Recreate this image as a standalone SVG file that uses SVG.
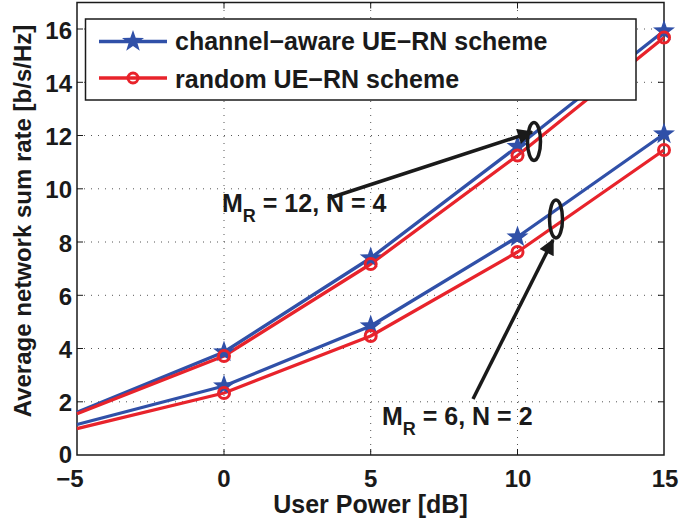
<svg xmlns="http://www.w3.org/2000/svg" width="679" height="523" viewBox="0 0 679 523">
  <style>
    text { font-family: "Liberation Sans", Arial, sans-serif; font-weight: bold; fill: #1a1a1a; }
    .tick { font-size: 24px; }
    .lbl { font-size: 25px; }
    .ylbl { font-size: 24px; }
    .ann { font-size: 25px; }
    .grid { stroke: #555; stroke-width: 1; stroke-dasharray: 1 6; fill: none; }
    .axis { stroke: #1a1a1a; stroke-width: 1.5; fill: none; }
    .tk { stroke: #1a1a1a; stroke-width: 1; }
    .blue { stroke: #3050a8; stroke-width: 3.3; fill: none; stroke-linejoin: round; }
    .red { stroke: #e8232b; stroke-width: 3.3; fill: none; stroke-linejoin: round; }
    .star { fill: #3050a8; }
    .circ { fill: none; stroke: #e8232b; stroke-width: 3; }
    .ptr { stroke: #1a1a1a; stroke-width: 3.5; fill: none; }
  </style>
  <defs>
    <path id="star" d="M0,-11.5 L2.7,-3.7 L11,-3.5 L4.4,1.5 L6.8,9.3 L0,4.6 L-6.8,9.3 L-4.4,1.5 L-11,-3.5 L-2.7,-3.7 Z"/>
    <marker id="ah" viewBox="0 0 10 10" refX="9" refY="5" markerWidth="5" markerHeight="4.5" orient="auto" markerUnits="strokeWidth">
      <path d="M0,0 L10,5 L0,10 Z" fill="#1a1a1a"/>
    </marker>
  </defs>
  <rect x="0" y="0" width="679" height="523" fill="#fff"/>

  <!-- grid -->
  <g id="grid">
    <path class="grid" d="M224,3 V455 M370.7,3 V455 M517.5,3 V455"/>
    <path class="grid" d="M77,401.8 H664 M77,348.5 H664 M77,295.3 H664 M77,242 H664 M77,188.8 H664 M77,135.5 H664 M77,82.3 H664 M77,29 H664"/>
  </g>

  <!-- axes box and ticks -->
  <g id="axes">
    <rect class="axis" x="77" y="2.5" width="587" height="452.5"/>
    <path class="tk" d="M77,401.8 h6 M77,348.5 h6 M77,295.3 h6 M77,242 h6 M77,188.8 h6 M77,135.5 h6 M77,82.3 h6 M77,29 h6
      M664,401.8 h-6 M664,348.5 h-6 M664,295.3 h-6 M664,242 h-6 M664,188.8 h-6 M664,135.5 h-6 M664,82.3 h-6 M664,29 h-6
      M224,455 v-6 M370.7,455 v-6 M517.5,455 v-6 M224,2.5 v6 M370.7,2.5 v6 M517.5,2.5 v6"/>
  </g>

  <!-- data series -->
  <g id="series">
    <polyline class="blue" points="77,412.4 224,352 370.7,258 517.5,146.5 664,31"/>
    <polyline class="red" points="77,413.8 224,356 370.7,264 517.5,155.5 664,37.5"/>
    <polyline class="blue" points="77,424.5 224,386 370.7,326 517.5,237 664,134"/>
    <polyline class="red" points="77,428.7 224,393 370.7,336 517.5,252 664,150"/>
    <use href="#star" class="star" x="224" y="352"/>
    <use href="#star" class="star" x="370.7" y="258"/>
    <use href="#star" class="star" x="517.5" y="146.5"/>
    <use href="#star" class="star" x="664" y="31"/>
    <use href="#star" class="star" x="224" y="386"/>
    <use href="#star" class="star" x="370.7" y="326"/>
    <use href="#star" class="star" x="517.5" y="237"/>
    <use href="#star" class="star" x="664" y="134"/>
    <circle class="circ" cx="224" cy="356" r="5.5"/>
    <circle class="circ" cx="370.7" cy="264" r="5.5"/>
    <circle class="circ" cx="517.5" cy="155.5" r="5.5"/>
    <circle class="circ" cx="664" cy="37.5" r="5.5"/>
    <circle class="circ" cx="224" cy="393" r="5.5"/>
    <circle class="circ" cx="370.7" cy="336" r="5.5"/>
    <circle class="circ" cx="517.5" cy="252" r="5.5"/>
    <circle class="circ" cx="664" cy="150" r="5.5"/>
  </g>

  <!-- legend -->
  <g id="legend">
    <rect x="85.5" y="19" width="550.5" height="81" fill="#fff" stroke="#1a1a1a" stroke-width="1.5"/>
    <line class="blue" x1="99" y1="41.5" x2="167" y2="41.5"/>
    <use href="#star" class="star" x="133" y="41.5"/>
    <line class="red" x1="99" y1="78" x2="167" y2="78"/>
    <circle class="circ" cx="133" cy="78" r="5" stroke-width="2.5"/>
    <text class="lbl" x="175" y="50">channel−aware UE−RN scheme</text>
    <text class="lbl" x="175" y="88">random UE−RN scheme</text>
  </g>

  <!-- annotations -->
  <g id="annotations">
    <ellipse class="ptr" cx="534" cy="141.5" rx="6.5" ry="19" stroke-width="3"/>
    <ellipse class="ptr" cx="556" cy="219" rx="6.5" ry="19" stroke-width="3"/>
    <line class="ptr" x1="328" y1="198.5" x2="532" y2="132" marker-end="url(#ah)"/>
    <line class="ptr" x1="473" y1="399" x2="553" y2="240" marker-end="url(#ah)"/>
    <text class="ann" x="222" y="212">M<tspan font-size="18" dy="10">R</tspan><tspan dy="-10"> = 12, N = 4</tspan></text>
    <text class="ann" x="382" y="425">M<tspan font-size="18" dy="10">R</tspan><tspan dy="-10"> = 6, N = 2</tspan></text>
  </g>

  <!-- tick labels -->
  <g id="ticklabels">
    <g class="tick" text-anchor="end">
      <text x="72" y="463">0</text>
      <text x="72" y="411.3">2</text>
      <text x="72" y="358">4</text>
      <text x="72" y="304.8">6</text>
      <text x="72" y="251.5">8</text>
      <text x="72" y="198.3">10</text>
      <text x="72" y="145">12</text>
      <text x="72" y="91.8">14</text>
      <text x="72" y="38.5">16</text>
    </g>
    <g class="tick" text-anchor="middle">
      <text x="70" y="487">−5</text>
      <text x="224" y="487">0</text>
      <text x="370.7" y="487">5</text>
      <text x="518" y="487">10</text>
      <text x="665" y="487">15</text>
    </g>
  </g>

  <!-- axis titles -->
  <g id="titles">
    <text class="lbl" x="370.5" y="513" text-anchor="middle">User Power [dB]</text>
    <text class="ylbl" transform="translate(31,221) rotate(-90)" text-anchor="middle">Average network sum rate [b/s/Hz]</text>
  </g>
</svg>
